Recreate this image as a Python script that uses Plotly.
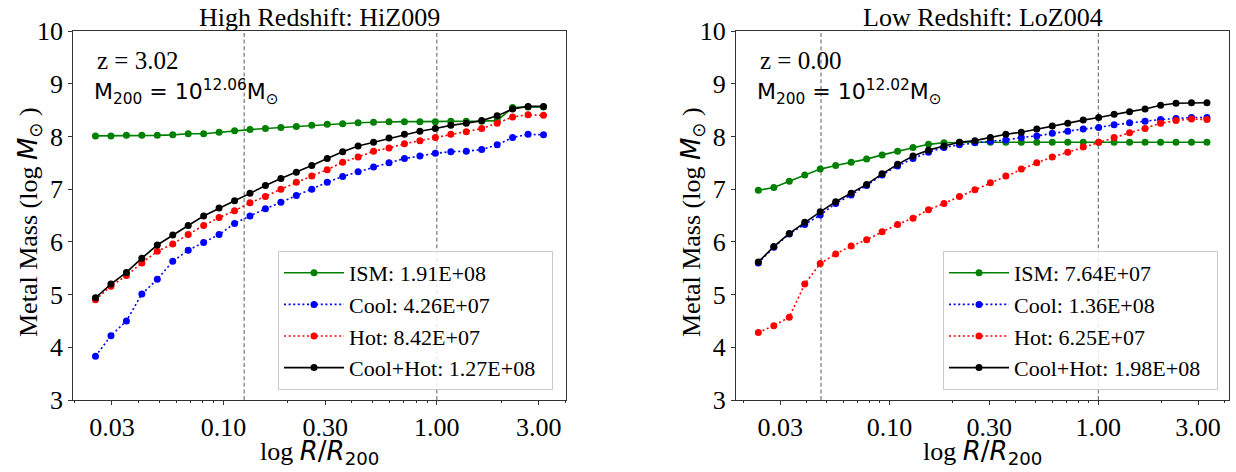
import plotly.graph_objects as go

# ---------------- data ----------------
r_hiz = [0.02512, 0.02968, 0.03507, 0.04143, 0.04895, 0.05783, 0.06833, 0.08072, 0.09535, 0.1127,
         0.1331, 0.1572, 0.1858, 0.2195, 0.2593, 0.3063, 0.3619, 0.4276, 0.5051, 0.5968,
         0.7050, 0.8329, 0.9842, 1.163, 1.374, 1.623, 1.918, 2.265, 2.677, 3.162]
ism_hiz = [8.01, 8.01, 8.02, 8.02, 8.02, 8.03, 8.05, 8.05, 8.08, 8.11,
           8.13, 8.15, 8.17, 8.19, 8.21, 8.23, 8.24, 8.26, 8.27, 8.28,
           8.28, 8.28, 8.28, 8.29, 8.29, 8.29, 8.30, 8.55, 8.56, 8.56]
cool_hiz = [3.83, 4.22, 4.50, 5.01, 5.29, 5.63, 5.84, 5.99, 6.14, 6.35,
            6.49, 6.63, 6.75, 6.88, 7.00, 7.13, 7.24, 7.33, 7.42, 7.50,
            7.58, 7.63, 7.68, 7.71, 7.72, 7.75, 7.84, 7.98, 8.04, 8.03]
hot_hiz = [4.90, 5.16, 5.36, 5.60, 5.82, 5.96, 6.14, 6.31, 6.46, 6.59,
           6.74, 6.86, 7.00, 7.13, 7.25, 7.37, 7.51, 7.61, 7.72, 7.78,
           7.86, 7.92, 7.98, 8.04, 8.09, 8.15, 8.25, 8.37, 8.41, 8.40]
tot_hiz = [4.94, 5.20, 5.42, 5.69, 5.94, 6.13, 6.31, 6.49, 6.64, 6.78,
           6.92, 7.07, 7.20, 7.32, 7.45, 7.58, 7.71, 7.82, 7.89, 7.97,
           8.04, 8.10, 8.15, 8.21, 8.25, 8.30, 8.39, 8.52, 8.57, 8.57]

r_loz = [0.02355, 0.02793, 0.03312, 0.03928, 0.04659, 0.05525, 0.06553, 0.07771, 0.09216, 0.1093,
         0.1296, 0.1537, 0.1823, 0.2162, 0.2564, 0.3041, 0.3606, 0.4277, 0.5072, 0.6016,
         0.7135, 0.8462, 1.0035, 1.190, 1.411, 1.674, 1.986, 2.354, 2.792, 3.311]
ism_loz = [6.98, 7.03, 7.15, 7.27, 7.38, 7.45, 7.51, 7.57, 7.65, 7.72,
           7.79, 7.85, 7.88, 7.89, 7.89, 7.89, 7.89, 7.89, 7.89, 7.89,
           7.89, 7.89, 7.89, 7.89, 7.89, 7.89, 7.89, 7.89, 7.89, 7.89]
cool_loz = [5.60, 5.90, 6.15, 6.33, 6.51, 6.73, 6.89, 7.07, 7.27, 7.44,
            7.58, 7.70, 7.79, 7.84, 7.88, 7.91, 7.93, 7.98, 8.01, 8.06,
            8.10, 8.14, 8.17, 8.22, 8.26, 8.29, 8.32, 8.34, 8.36, 8.36]
hot_loz = [4.28, 4.41, 4.57, 5.20, 5.59, 5.77, 5.92, 6.04, 6.19, 6.33,
           6.45, 6.61, 6.73, 6.86, 6.99, 7.12, 7.25, 7.38, 7.50, 7.61,
           7.70, 7.80, 7.89, 7.98, 8.07, 8.15, 8.25, 8.30, 8.33, 8.32]
tot_loz = [5.62, 5.91, 6.16, 6.37, 6.57, 6.76, 6.92, 7.09, 7.29, 7.47,
           7.63, 7.74, 7.82, 7.89, 7.92, 7.98, 8.04, 8.08, 8.14, 8.20,
           8.25, 8.31, 8.36, 8.42, 8.47, 8.52, 8.59, 8.63, 8.64, 8.64]

series_names = ["ISM", "Cool", "Hot", "Cool+Hot"]
totals_hiz = ["1.91E+08", "4.26E+07", "8.42E+07", "1.27E+08"]
totals_loz = ["7.64E+07", "1.36E+08", "6.25E+07", "1.98E+08"]
vlines_hiz = [0.125, 1.0]
vlines_loz = [0.047, 1.0]
titles = ["High Redshift: HiZ009", "Low Redshift: LoZ004"]
redshifts = ["3.02", "0.00"]
logm200 = ["12.06", "12.02"]
xtick_vals = [0.03, 0.1, 0.3, 1.0, 3.0]
xtick_text = ["0.03", "0.10", "0.30", "1.00", "3.00"]

# ---------------- styling ----------------
W, H = 1236, 472
SERIF = "Liberation Serif"
SANS = "DejaVu Sans"
colors = ["#008000", "#0000ff", "#ff0000", "#000000"]
dashes = ["solid", "2px,2.6px", "2px,2.6px", "solid"]

def px_x(p):
    return p / W

def px_y(p):
    return 1 - p / H

dom_x = [[px_x(73.3), px_x(565.7)], [px_x(736.0), px_x(1229.3)]]
dom_y = [px_y(400.0), px_y(31.0)]
xranges = [[-1.704, 0.604], [-1.735, 0.627]]
ytitle_x = [29, 692]

minor_vals = []
for dec in [0.01, 0.1, 1.0]:
    for m in range(2, 10):
        minor_vals.append(round(m * dec, 4))

fig = go.Figure()

panels = [
    (r_hiz, [ism_hiz, cool_hiz, hot_hiz, tot_hiz], totals_hiz, vlines_hiz),
    (r_loz, [ism_loz, cool_loz, hot_loz, tot_loz], totals_loz, vlines_loz),
]

for p, (xs, ys_list, totals, vls) in enumerate(panels):
    xa = "x" if p == 0 else "x2"
    ya = "y" if p == 0 else "y2"
    leg = "legend" if p == 0 else "legend2"
    for k, ys in enumerate(ys_list):
        fig.add_trace(go.Scatter(
            x=xs, y=ys, xaxis=xa, yaxis=ya, mode="lines+markers",
            name=f"{series_names[k]}: {totals[k]}\u00a0\u00a0",
            line=dict(color=colors[k], width=1.6, dash=dashes[k]),
            marker=dict(color=colors[k], size=7, line=dict(width=0)),
            legend=leg, legendgroup=f"{p}-{k}",
        ))
    for v in vls:
        fig.add_shape(type="line", xref=xa, yref=f"{ya} domain", x0=v, x1=v, y0=0, y1=1,
                      line=dict(color="#777777", width=1.2, dash="4px,2.6px"), layer="below")

axis_common = dict(showline=True, linecolor="#333333", linewidth=1.1, mirror=True,
                   ticks="outside", ticklen=4, tickwidth=1, tickcolor="#333333",
                   showgrid=False, zeroline=False, automargin=False,
                   tickfont=dict(family=SERIF, size=26, color="black"))

ytitle = (f"Metal Mass (log <span style='font-family:{SANS}'><i>M</i></span>"
          f"<span style='font-family:{SANS}'><sub>⊙</sub></span> )")
xtitle = (f"log <span style='font-family:{SANS}'><i>R</i>/<i>R</i><sub>200</sub></span>")

for p in range(2):
    sfx = "" if p == 0 else "2"
    fig.update_layout(**{
        f"xaxis{sfx}": dict(axis_common, type="log", domain=dom_x[p], range=xranges[p],
                            anchor="y" + sfx, tickmode="array", tickvals=xtick_vals,
                            ticktext=xtick_text,
                            minor=dict(tickmode="array", tickvals=minor_vals, ticks="outside",
                                       ticklen=2.2, tickwidth=0.8, tickcolor="#333333",
                                       showgrid=False)),
        f"yaxis{sfx}": dict(axis_common, domain=dom_y, range=[3, 10], anchor="x" + sfx,
                            tickmode="array", tickvals=[3, 4, 5, 6, 7, 8, 9, 10]),
    })
    xd = "x domain" if p == 0 else "x2 domain"
    yd = "y domain" if p == 0 else "y2 domain"
    # axis titles
    fig.add_annotation(xref=xd, yref="paper", x=0.5, y=px_y(452), xanchor="center",
                       yanchor="middle", text=xtitle, showarrow=False,
                       font=dict(family=SERIF, size=26, color="black"))
    fig.add_annotation(xref="paper", yref="paper", x=px_x(ytitle_x[p]), y=px_y(222),
                       xanchor="center", yanchor="middle", textangle=-90, text=ytitle,
                       showarrow=False, font=dict(family=SERIF, size=26, color="black"))
    # panel title
    fig.add_annotation(xref=xd, yref=yd, x=0.5, y=1, xanchor="center", yanchor="bottom",
                       text=titles[p], showarrow=False, yshift=-3,
                       font=dict(family=SERIF, size=26, color="black"))
    fig.add_annotation(xref=xd, yref=yd, x=0.045, y=0.92, xanchor="left", yanchor="middle",
                       text=f"z = {redshifts[p]}", showarrow=False,
                       font=dict(family=SERIF, size=25, color="black"))
    fig.add_annotation(xref=xd, yref=yd, x=0.038, y=0.835, xanchor="left", yanchor="middle",
                       text=f"M<sub>200</sub> = 10<sup>{logm200[p]}</sup>M<sub>⊙</sub>",
                       showarrow=False, font=dict(family=SANS, size=22, color="black"))

legend_common = dict(bgcolor="rgba(255,255,255,0.85)", bordercolor="#cccccc", borderwidth=1,
                     font=dict(family=SERIF, size=22, color="black"),
                     xanchor="right", yanchor="top", tracegroupgap=0, itemwidth=60,
                     traceorder="grouped")
fig.update_layout(
    width=W, height=H, margin=dict(l=0, r=0, t=0, b=0, pad=0, autoexpand=False),
    paper_bgcolor="white", plot_bgcolor="white", showlegend=True,
    legend=dict(legend_common, x=px_x(553), y=px_y(251)),
    legend2=dict(legend_common, x=px_x(1218), y=px_y(251)),
    font=dict(family=SERIF, size=22, color="black"),
)

fig.write_html("out.html", config={"displayModeBar": False},
               post_script="document.body.style.margin='0px';")
